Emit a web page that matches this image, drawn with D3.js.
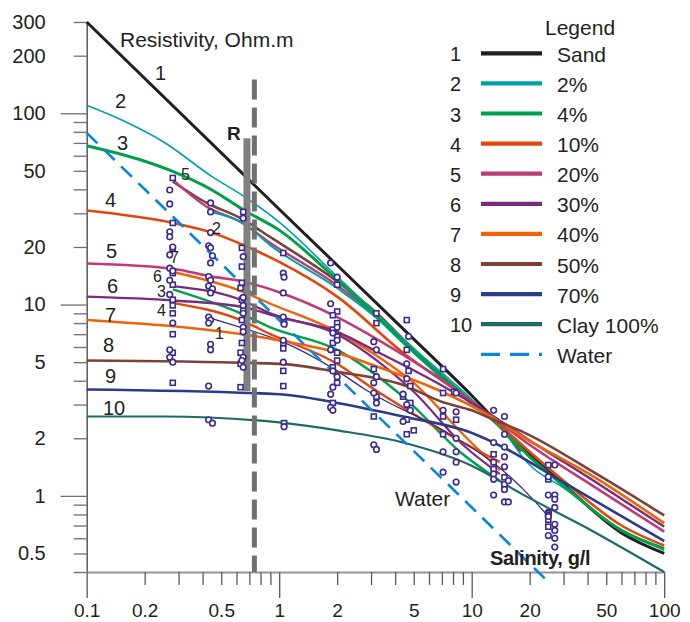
<!DOCTYPE html>
<html>
<head>
<meta charset="utf-8">
<script src="https://cdn.jsdelivr.net/npm/d3@7"></script>
<style>
  body { margin: 0; background: #fff; }
  svg text { font-family: "Liberation Sans", Arial, sans-serif; fill: #231f20; }
</style>
</head>
<body>
<svg id="chart" width="690" height="622"></svg>
<script>
/* tick labels */
const salinityLabels = [0.1, 0.2, 0.5, 1, 2, 5, 10, 20, 50, 100];
const resistLabels = [300, 200, 100, 50, 20, 10, 5, 2, 1, 0.5];

/* main curves, [salinity g/l, resistivity Ohm.m] */
const sand = [[0.1,300],[1,31.5],[5,6.6],[10,3.35],[14,2.35],[20,1.65],[30,1.15],[60,0.64],[100,0.5]];
const clay2 = [[0.1,110],[0.16,90],[0.25,71],[0.45,46.5],[0.65,37],[1,27],[2,14],[5,5.9],[10,3.2],[14,2.3],[20,1.45],[30,1.1],[60,0.66],[100,0.52]];
const clay4 = [[0.1,67.6],[0.27,50.4],[0.45,39.6],[0.65,31.3],[1,24.5],[2,13.5],[5,5.7],[10,3.1],[14,2.3],[20,1.6],[30,1.13],[60,0.66],[100,0.53]];
const clay10 = [[0.1,31],[0.28,26.7],[0.45,23.7],[0.65,20.5],[1,16.7],[2,11],[4.4,5.6],[10,3.1],[14,2.35],[20,1.7],[30,1.2],[60,0.7],[100,0.55]];
const clay20 = [[0.1,16.4],[0.28,15.4],[0.45,14],[0.65,13.2],[1,11.6],[2,8.6],[3.3,6.5],[6.6,4.2],[13,2.55],[20,1.85],[43,1.12],[100,0.65]];
const clay30 = [[0.1,11],[0.28,10.5],[0.65,9.7],[1,8.6],[2,7.2],[3.3,5.6],[6.6,3.9],[13,2.6],[20,1.95],[43,1.2],[100,0.69]];
const clay40 = [[0.1,8.3],[1,6.5],[2,5.6],[3.3,4.7],[6.6,3.6],[13,2.55],[19,2.0],[43,1.26],[100,0.72]];
const clay50 = [[0.1,5.1],[1,4.9],[2,4.45],[4.4,3.8],[7,3.1],[10,2.8],[13,2.5],[19,2.13],[43,1.33],[100,0.79]];
const clay70 = [[0.1,3.6],[1,3.4],[2,3.06],[4.4,2.6],[9.8,2.15],[14.5,1.8],[29,1.2],[100,0.58]];
const clay100 = [[0.1,2.6],[0.25,2.6],[1,2.42],[2,2.2],[4.4,1.9],[9.8,1.45],[19,1.0],[43,0.65],[100,0.4]];
const water = [[0.1,79],[25,0.355]];

/* short curves starting near 0.28 g/l */
const sec5b = [[0.28,44],[0.42,34],[0.63,28.3],[0.9,22.5],[2,13.2],[3.3,8.8],[4.4,6.6],[10,3.1],[13,2.5],[18,1.7]];
const sec5p = [[0.28,45],[0.42,32.5],[0.63,27],[0.9,21],[2,12.6],[3.3,8.5],[4.4,6.4],[10,3.05]];
const sec2 = [[0.44,30.5],[0.65,26.7],[0.9,20.4],[2,12.2],[3.3,8.3],[4.4,6.3],[10,3.0]];
const sec7 = [[0.28,14.8],[0.63,11.8],[0.9,10.1],[2,7.2],[3.3,5.3],[5,3.9],[9,2.1],[14,1.36]];
const sec6 = [[0.28,12.5],[0.63,10.6],[0.9,9.0],[2,7.0],[3.3,5.0],[5,3.5],[9,1.85],[14,1.3]];
const sec3 = [[0.28,12],[0.63,9],[0.9,7.6],[2,5.8],[4.4,3.3],[9,1.65],[14,1.2]];
const sec4 = [[0.28,10.2],[0.63,8.3],[0.9,7.0],[2,4.9],[3,3.7],[4.4,2.9],[9,1.9],[14,1.5]];
const sec1 = [[0.42,8.6],[0.63,7.6],[1,6.5],[2,4.5],[2.8,3.6],[7.7,2.1],[14,1.4],[21,0.95],[25,0.78]];

/* measured points */
const squarePts = [
  [0.28,45.9],[0.28,26.7],[0.28,19.6],[0.28,14.6],[0.28,12.7],[0.28,10.6],[0.28,9.9],[0.28,9.0],[0.28,7.0],[0.28,5.6],[0.28,3.9],
  [0.65,30.5],[0.64,19.8],[0.64,15.8],[0.64,13],[0.63,12.2],[0.64,10.6],[0.65,9.4],[0.64,8.3],[0.64,6.3],[0.63,5.6],[0.63,4.9],[0.63,3.7],
  [1.05,18.6],[1.06,8.1],[1.05,6.3],[1.05,5.9],[1.05,4.5],[1.05,3.75],[1.06,2.4],
  [2,12.7],[2,9.2],[1.9,8.8],[2,8.0],[1.9,7.4],[2,6.8],[1.9,6.3],[2,5.6],[2,5.1],[1.9,4.7],[2,3.9],[1.9,3.06],
  [3.2,9.0],[3.2,8.0],[3.1,4.6],[3.2,3.3],[3.1,2.6],
  [4.6,8.3],[4.6,5.8],[4.7,4.5],[4.8,3.75],[4.4,3.3],[4.8,3.06],[4.6,2.5],[5.0,2.2],[4.6,2.1],
  [7.1,4.6],[8.1,3.5],[7.1,3.45],[7.1,2.6],[8.3,2.5],[7.1,2.1],
  [13,1.65],[13,1.5],[13,1.38],[14.8,1.25],[14.8,1.11],
  [25,1.45],[25,1.22],[25,0.75],[25,0.69]
];
const circlePts = [
  [0.27,39.7],[0.27,33.6],[0.27,24.0],[0.27,22.6],[0.28,20.0],[0.27,18.2],[0.27,15.5],[0.28,15.0],[0.27,13.4],[0.27,11.3],[0.28,8.0],[0.27,5.8],[0.27,5.3],[0.28,5.0],
  [0.44,34],[0.44,30.5],[0.44,23.8],[0.43,20.3],[0.44,19.8],[0.45,18],[0.44,16.5],[0.43,14],[0.44,13.4],[0.43,12.5],[0.45,12.1],[0.44,11.5],[0.43,8.6],[0.44,8.3],[0.43,8.0],[0.44,6.2],[0.44,5.8],[0.43,3.75],[0.43,2.5],[0.45,2.4],
  [0.65,28.3],[0.65,17.8],[0.65,10.9],[0.65,9.9],[0.65,9.0],[0.65,7.6],[0.65,7.2],[0.65,5.3],[0.64,5.1],[0.65,4.7],
  [1.05,14.6],[1.06,13.9],[1.05,11.5],[1.05,8.6],[1.06,7.9],[1.05,6.5],[1.05,5.0],[1.06,2.3],
  [1.85,16.5],[2,13.9],[1.85,10.1],[2,7.6],[1.9,7.1],[2,6.5],[1.85,5.8],[1.9,4.5],[2,4.2],[1.9,3.7],[1.85,3.4],[1.85,2.9],[1.9,2.8],
  [3.1,6.4],[3.2,5.8],[3.2,4.2],[3.1,3.9],[3.1,3.45],[3.2,3.06],[3.1,1.85],[3.2,1.75],
  [4.7,6.8],[4.6,4.9],[4.6,4.1],[4.4,3.4],[4.6,3.0],[4.8,2.8],[4.4,2.45],
  [8.3,3.45],[7.1,2.8],[8.3,2.75],[8.3,2.0],[7.1,1.7],[8.3,1.7],[8.3,1.5],[7.1,1.33],[8.3,1.18],
  [13,2.8],[14.8,2.6],[14.8,2.1],[13,1.9],[14.8,1.8],[14.8,1.6],[14.8,1.42],[13,1.3],[13,1.22],[14.8,1.15],[14.8,1.08],[13,1.01],[14.8,0.93],[15.5,1.2],[15.5,0.93],
  [27,1.45],[25,1.26],[25,1.01],[27,1.01],[27,0.96],[27,0.87],[25,0.82],[25,0.81],[25,0.79],[25,0.78],[27,0.71],[27,0.66],[25,0.62],[27,0.6],[27,0.54]
];

/* R bar and dashed marker line */
const rBar = {s: 0.68, top: 74, bottom: 3.53};
const dashLine = {s: 0.743, top: 150};

const legendNumbers = ["1","2","3","4","5","6","7","8","9","10",""];
const legendNames = ["Sand","2%","4%","10%","20%","30%","40%","50%","70%","Clay 100%","Water"];

const colors = ["#231f20","#00a1a6","#00a04b","#e1470b","#bf3a78","#7a2c7c","#ef6307","#7a433a","#2a3b8b","#1c6a6a"];
const waterColor = "#0b86d9";
const pointColor = "#3b2a8f";

const mainSeries = [sand, clay2, clay4, clay10, clay20, clay30, clay40, clay50, clay70, clay100];
const mainWidths = [3, 1.6, 3, 2.6, 2.6, 2.4, 2.6, 2.6, 2.6, 2.2];
const secSeries = [sec5b, sec5p, sec2, sec7, sec6, sec3, sec4, sec1];
const secColors = [colors[7], colors[4], colors[1], colors[6], colors[5], colors[2], colors[3], "#3b2a8a"];
const secWidths = [2.6, 2.4, 2, 2.4, 2.2, 2.4, 2.4, 1.3];

let svg = d3.select("#chart");

let x = d3.scaleLog().domain([0.1, 100]).range([86.7, 664.2]);
let y = d3.scaleLog().domain([0.4, 300]).range([572, 22]);

function multiples(lo, hi) {
  let out = [];
  for (let p = -2; p <= 3; p++) {
    for (let m = 1; m < 10; m++) {
      let v = +(m * Math.pow(10, p)).toPrecision(3);
      if (v >= lo - 1e-9 && v <= hi + 1e-9) out.push(v);
    }
  }
  return out;
}

// y axis
let yAxis = svg.append("g")
    .attr("transform", `translate(${x(0.1)},0)`)
    .call(d3.axisLeft(y)
      .tickValues(multiples(0.4, 300))
      .tickSize(13)
      .tickSizeOuter(0)
      .tickPadding(28)
      .tickFormat(d => resistLabels.includes(d) ? d : ""));
yAxis.select(".domain").attr("stroke", "#58595b").attr("stroke-width", 1.5);
yAxis.selectAll(".tick line").attr("stroke", "#6d6e71").attr("stroke-width", 1.3)
    .filter(d => [1, 10, 100].includes(d)).attr("x2", -26);
yAxis.selectAll(".tick text").style("font-size", "20px").attr("fill", "#231f20");

// x axis
let xAxis = svg.append("g")
    .attr("transform", `translate(0,${y(0.4)})`)
    .call(d3.axisBottom(x)
      .tickValues(multiples(0.1, 100))
      .tickSize(13)
      .tickSizeOuter(0)
      .tickPadding(19)
      .tickFormat(d => salinityLabels.includes(d) ? d : ""));
xAxis.select(".domain").attr("stroke", "#939598").attr("stroke-width", 2);
xAxis.selectAll(".tick line").attr("stroke", "#58595b").attr("stroke-width", 1.3)
    .filter(d => [0.1, 1, 10, 100].includes(d)).attr("y2", 26);
xAxis.selectAll(".tick text").style("font-size", "19px").attr("fill", "#231f20");

let line = d3.line()
    .x(d => x(d[0]))
    .y(d => y(d[1]))
    .curve(d3.curveMonotoneX);

let curves = svg.append("g").attr("fill", "none").attr("stroke-linejoin", "round");

curves.selectAll(".sec")
  .data(secSeries)
  .join("path")
    .attr("class", "sec")
    .attr("d", d => line(d))
    .attr("stroke", (d, i) => secColors[i])
    .attr("stroke-width", (d, i) => secWidths[i]);

curves.selectAll(".main")
  .data(mainSeries)
  .join("path")
    .attr("class", "main")
    .attr("d", d => line(d))
    .attr("stroke", (d, i) => colors[i])
    .attr("stroke-width", (d, i) => mainWidths[i]);

curves.append("path")
    .attr("d", d3.line().x(d => x(d[0])).y(d => y(d[1]))(water))
    .attr("stroke", waterColor)
    .attr("stroke-width", 2.6)
    .attr("stroke-dasharray", "15,9");

// R bar
svg.append("rect")
    .attr("x", x(rBar.s) - 3.5)
    .attr("width", 7)
    .attr("y", y(rBar.top))
    .attr("height", y(rBar.bottom) - y(rBar.top))
    .attr("fill", "#808080");

svg.append("line")
    .attr("x1", x(dashLine.s)).attr("x2", x(dashLine.s))
    .attr("y1", y(dashLine.top)).attr("y2", y(0.4))
    .attr("stroke", "#707070")
    .attr("stroke-width", 5)
    .attr("stroke-dasharray", "20,8");

// points
let pts = svg.append("g").attr("fill", "#fff").attr("stroke", pointColor).attr("stroke-width", 1.6);
pts.selectAll("rect")
  .data(squarePts)
  .join("rect")
    .attr("x", d => x(d[0]) - 2.5)
    .attr("y", d => y(d[1]) - 2.5)
    .attr("width", 5)
    .attr("height", 5);
pts.selectAll("circle")
  .data(circlePts)
  .join("circle")
    .attr("cx", d => x(d[0]))
    .attr("cy", d => y(d[1]))
    .attr("r", 2.8);

// curve numbers
const curveNumberPos = [[155,80],[115,108],[117,150],[105,207],[106,258],[107,293],[105,322],[103,352],[105,383],[103,415]];
svg.append("g").selectAll("text")
  .data(curveNumberPos)
  .join("text")
    .attr("x", d => d[0])
    .attr("y", d => d[1])
    .style("font-size", "20px")
    .text((d, i) => i + 1);

const smallLabels = [["5",181,180],["2",212,234],["7",170,263],["6",153,282],["3",157,297],["4",157,316],["1",215,339]];
svg.append("g").selectAll("text")
  .data(smallLabels)
  .join("text")
    .attr("x", d => d[1])
    .attr("y", d => d[2])
    .style("font-size", "16px")
    .attr("fill", "#414042")
    .text(d => d[0]);

svg.append("text").attr("x", 120).attr("y", 47).style("font-size", "21px").text("Resistivity, Ohm.m");
svg.append("text").attr("x", 227).attr("y", 140).style("font-size", "19px").style("font-weight", "bold").text("R");
svg.append("text").attr("x", 395).attr("y", 506).style("font-size", "21px").text("Water");
svg.append("text").attr("x", 490).attr("y", 565).style("font-size", "20px").style("font-weight", "bold")
    .attr("letter-spacing", "-0.3").text("Salinity, g/l");

// legend
let legend = svg.append("g");
legend.append("text").attr("x", 545).attr("y", 35).style("font-size", "21px").text("Legend");
let rows = legend.selectAll(".row")
  .data(legendNames)
  .join("g")
    .attr("class", "row")
    .attr("transform", (d, i) => `translate(0,${53.3 + 30.1 * i})`);
rows.append("line")
    .attr("x1", 481).attr("x2", 542)
    .attr("stroke", (d, i) => i < 10 ? colors[i] : waterColor)
    .attr("stroke-width", (d, i) => i < 10 ? 4.2 : 3.2)
    .attr("stroke-dasharray", (d, i) => i < 10 ? null : "19,10");
rows.append("text")
    .attr("x", 450).attr("y", 8)
    .style("font-size", "20px")
    .text((d, i) => legendNumbers[i]);
rows.append("text")
    .attr("x", 557).attr("y", 8.5)
    .style("font-size", "21px")
    .text(d => d);
</script>
</body>
</html>
